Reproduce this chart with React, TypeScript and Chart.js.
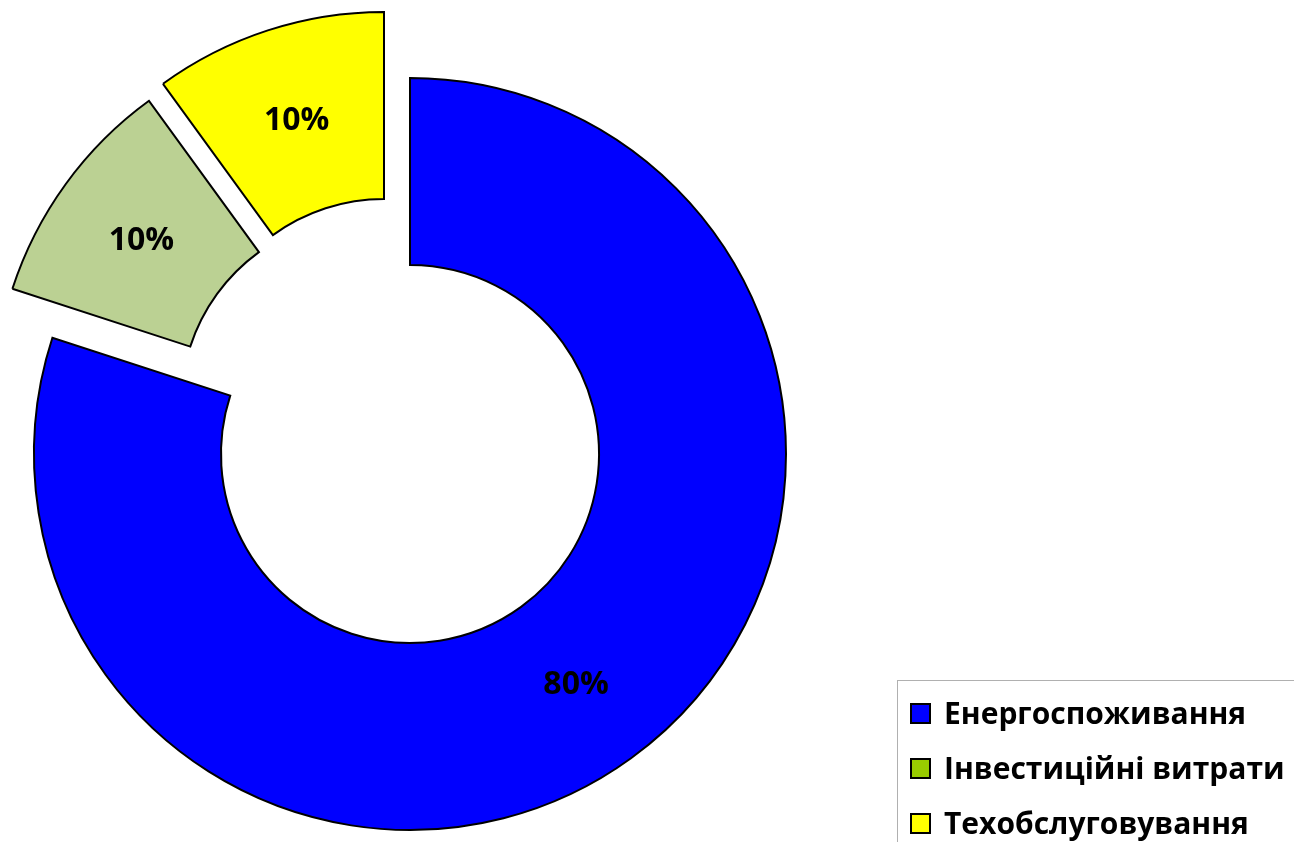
import React, { useEffect, useRef } from "react";
import { Chart, registerables } from "chart.js";

Chart.register(...registerables);

const categories = ["Енергоспоживання", "Інвестиційні витрати", "Техобслуговування"];
const values = [80, 10, 10];
const sliceColors = ["#0000FF", "#BBD193", "#FFFF00"];
const legendColors = ["#0000FF", "#99CC00", "#FFFF00"];

// visual explode shift of each slice (style, px)
const EXPLODE = [
  { dx: 0, dy: 0 },
  { dx: -40, dy: -49 },
  { dx: -26, dy: -66 },
];

const FONT = "'Open Sans', 'Noto Sans', sans-serif";

const explodePlugin = {
  id: "explodeShift",
  afterDatasetsUpdate(chart: any) {
    const meta = chart.getDatasetMeta(0);
    meta.data.forEach((arc: any, i: number) => {
      const e = EXPLODE[i] || { dx: 0, dy: 0 };
      arc.x += e.dx;
      arc.y += e.dy;
    });
  },
};

const labelPlugin = {
  id: "sliceLabels",
  afterDatasetsDraw(chart: any) {
    const ctx = chart.ctx;
    const meta = chart.getDatasetMeta(0);
    const data = chart.data.datasets[0].data as number[];
    const total = data.reduce((a, b) => a + b, 0);
    ctx.save();
    ctx.font = `bold 32px ${FONT}`;
    ctx.fillStyle = "#000";
    ctx.textAlign = "center";
    ctx.textBaseline = "middle";
    meta.data.forEach((arc: any, i: number) => {
      const p = arc.getCenterPoint();
      ctx.fillText(Math.round((data[i] / total) * 100) + "%", p.x, p.y + 2);
    });
    ctx.restore();
  },
};

function DonutChart() {
  const ref = useRef<HTMLCanvasElement | null>(null);
  useEffect(() => {
    if (!ref.current) return;
    const chart = new Chart(ref.current, {
      type: "doughnut",
      data: {
        labels: categories,
        datasets: [
          {
            data: values,
            backgroundColor: sliceColors,
            borderColor: "#000000",
            borderWidth: 2,
            borderJoinStyle: "miter",
          } as any,
        ],
      },
      options: {
        animation: false,
        responsive: true,
        maintainAspectRatio: false,
        events: [],
        radius: 376,
        cutout: "50.27%",
        layout: { padding: { left: 0, top: 66, right: 474, bottom: 0 } },
        plugins: {
          legend: { display: false },
          tooltip: { enabled: false },
        },
      } as any,
      plugins: [explodePlugin, labelPlugin],
    });
    return () => chart.destroy();
  }, []);
  return <canvas ref={ref} />;
}

export default function App() {
  return (
    <div
      style={{
        position: "absolute",
        left: 0,
        top: 0,
        width: 1294,
        height: 842,
        overflow: "hidden",
        background: "#fff",
        fontFamily: FONT,
      }}
    >
      <div style={{ position: "absolute", left: 0, top: 0, width: 1294, height: 842 }}>
        <DonutChart />
      </div>
      <div
        style={{
          position: "absolute",
          left: 897,
          top: 680,
          width: 420,
          height: 200,
          border: "1px solid #b0b0b0",
          boxSizing: "border-box",
        }}
      >
        {categories.map((c, i) => (
          <div
            key={c}
            style={{
              position: "absolute",
              left: 12,
              top: 20 + i * 55,
              height: 24,
              display: "flex",
              alignItems: "center",
              whiteSpace: "nowrap",
            }}
          >
            <span
              style={{
                display: "inline-block",
                width: 17,
                height: 17,
                background: legendColors[i],
                border: "2px solid #000",
                marginRight: 13,
              }}
            />
            <span style={{ fontWeight: 700, fontSize: 30, color: "#000", lineHeight: "24px" }}>{c}</span>
          </div>
        ))}
      </div>
    </div>
  );
}
